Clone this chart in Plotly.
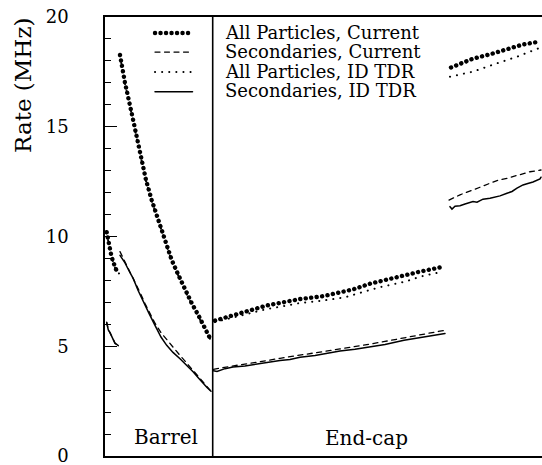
import plotly.graph_objects as go

# Position along the detector (arbitrary units); barrel up to 1.077, end-cap beyond
BARREL_EDGE = 1.077

# ---- All Particles, Current ----
all_cur_x = [
    [0.017, 0.03, 0.045, 0.06, 0.075, 0.09, 0.105, 0.12, 0.14],
    [0.15, 0.20, 0.26, 0.307, 0.357, 0.41, 0.467, 0.517, 0.567, 0.617, 0.667,
     0.733, 0.80, 0.867, 0.933, 1.00, 1.055],
    [1.10, 1.28, 1.45, 1.62, 1.78, 1.95, 2.18, 2.35, 2.48, 2.65, 2.82, 2.98, 3.15, 3.38],
    [3.46, 3.57, 3.68, 3.85, 4.02, 4.18, 4.35],
]
all_cur_y = [
    [10.2, 9.85, 9.5, 9.2, 8.95, 8.7, 8.55, 8.42, 8.35],
    [18.27, 17.0, 15.76, 14.70, 13.64, 12.57, 11.66, 10.98, 10.30, 9.54, 8.93,
     8.25, 7.56, 6.96, 6.42, 5.82, 5.32],
    [6.17, 6.40, 6.66, 6.86, 7.00, 7.15, 7.28, 7.45, 7.59, 7.85, 8.05, 8.25, 8.40, 8.62],
    [17.70, 17.90, 18.10, 18.30, 18.52, 18.75, 18.88],
]

# ---- Secondaries, Current ----
sec_cur_x = [
    [0.017, 0.033, 0.05, 0.067, 0.083, 0.10, 0.117, 0.133],
    [0.15, 0.20, 0.25, 0.30, 0.35, 0.40, 0.45, 0.50, 0.56, 0.633, 0.70, 0.75,
     0.82, 0.88, 0.93, 0.98, 1.02, 1.06],
    [1.085, 1.20, 1.30, 1.45, 1.60, 1.75, 1.90, 2.05, 2.20, 2.35, 2.50, 2.65,
     2.80, 2.95, 3.10, 3.25, 3.40],
    [3.44, 3.55, 3.68, 3.80, 3.92, 4.02, 4.15, 4.25, 4.36],
]
sec_cur_y = [
    [6.10, 5.76, 5.62, 5.45, 5.33, 5.15, 5.08, 5.04],
    [9.31, 8.85, 8.40, 7.95, 7.45, 6.95, 6.50, 6.05, 5.62, 5.21, 4.85, 4.58,
     4.22, 3.90, 3.62, 3.33, 3.14, 2.95],
    [3.95, 4.05, 4.12, 4.22, 4.35, 4.45, 4.56, 4.65, 4.77, 4.88, 4.98, 5.10,
     5.22, 5.35, 5.48, 5.60, 5.73],
    [11.66, 11.90, 12.12, 12.35, 12.55, 12.65, 12.82, 12.95, 13.03],
]

# ---- All Particles, ID TDR ----
all_tdr_x = [
    [0.017, 0.03, 0.045, 0.06, 0.075, 0.09, 0.105, 0.12, 0.14],
    [0.15, 0.20, 0.26, 0.307, 0.357, 0.41, 0.467, 0.517, 0.567, 0.617, 0.667,
     0.733, 0.80, 0.867, 0.933, 1.00, 1.055],
    [1.10, 1.28, 1.45, 1.62, 1.78, 1.95, 2.18, 2.40, 2.60, 2.75, 3.00, 3.15, 3.30, 3.38],
    [3.45, 3.68, 3.92, 4.12, 4.35],
]
all_tdr_y = [
    [10.15, 9.80, 9.46, 9.15, 8.92, 8.68, 8.52, 8.40, 8.32],
    [18.22, 16.95, 15.70, 14.66, 13.60, 12.52, 11.62, 10.94, 10.26, 9.50, 8.90,
     8.22, 7.52, 6.93, 6.38, 5.80, 5.30],
    [6.10, 6.30, 6.52, 6.70, 6.82, 6.97, 7.08, 7.23, 7.50, 7.69, 7.94, 8.17, 8.32, 8.40],
    [17.28, 17.51, 17.89, 18.19, 18.60],
]

# ---- Secondaries, ID TDR ----
sec_tdr_x = [
    [0.017, 0.033, 0.05, 0.067, 0.083, 0.10, 0.117, 0.133],
    [0.15, 0.20, 0.25, 0.283, 0.33, 0.383, 0.44, 0.50, 0.56, 0.617, 0.68, 0.75,
     0.82, 0.883, 0.93, 0.983, 1.02, 1.06],
    [1.085, 1.12, 1.20, 1.28, 1.40, 1.50, 1.62, 1.75, 1.85, 1.95, 2.10, 2.23,
     2.35, 2.50, 2.65, 2.80, 2.99, 3.15, 3.30, 3.40],
    [3.45, 3.47, 3.50, 3.55, 3.60, 3.65, 3.68, 3.72, 3.78, 3.85, 3.90, 3.95,
     4.02, 4.07, 4.12, 4.18, 4.22, 4.28, 4.35, 4.36],
]
sec_tdr_y = [
    [6.07, 5.74, 5.62, 5.43, 5.34, 5.13, 5.08, 5.03],
    [9.14, 8.80, 8.35, 8.08, 7.55, 7.02, 6.50, 5.95, 5.42, 5.04, 4.72, 4.43,
     4.12, 3.83, 3.58, 3.29, 3.12, 2.95],
    [3.88, 3.85, 3.98, 4.05, 4.10, 4.18, 4.28, 4.35, 4.40, 4.50, 4.58, 4.68,
     4.78, 4.86, 4.98, 5.08, 5.27, 5.38, 5.48, 5.58],
    [11.36, 11.25, 11.38, 11.40, 11.48, 11.55, 11.59, 11.56, 11.70, 11.74, 11.80,
     11.85, 11.97, 12.05, 12.20, 12.35, 12.40, 12.48, 12.62, 12.70],
]

series_names = ["All Particles, Current", "Secondaries, Current",
                "All Particles, ID TDR", "Secondaries, ID TDR"]

FONT = "DejaVu Serif"


def join_segments(segs):
    out = []
    for i, s in enumerate(segs):
        if i:
            out.append(None)
        out.extend(s)
    return out


styles = [
    dict(width=4.4, dash="0.1px,5.4px"),   # heavy dots
    dict(width=1.3, dash="5px,4.5px"),     # dashes
    dict(width=2.0, dash="0.1px,7px"),     # fine dots
    dict(width=1.5, dash="solid"),         # solid
]
data = [(all_cur_x, all_cur_y), (sec_cur_x, sec_cur_y),
        (all_tdr_x, all_tdr_y), (sec_tdr_x, sec_tdr_y)]

fig = go.Figure()
for name, (xs, ys), st in zip(series_names, data, styles):
    fig.add_trace(go.Scatter(
        x=join_segments(xs), y=join_segments(ys), mode="lines", name=name,
        line=dict(color="black", width=st["width"], dash=st["dash"]),
        connectgaps=False, showlegend=False, hoverinfo="skip",
    ))

shapes = [
    # barrel / end-cap boundary
    dict(type="line", xref="x", yref="paper", x0=BARREL_EDGE, x1=BARREL_EDGE,
         y0=0, y1=1, line=dict(color="black", width=1.6)),
]
annotations = []

# hand-built key in the upper left
key_rows_y = [19.27, 18.40, 17.50, 16.60]
for name, st, yk in zip(series_names, styles, key_rows_y):
    shapes.append(dict(type="line", xref="x", yref="y", x0=0.50, x1=0.875,
                       y0=yk, y1=yk,
                       line=dict(color="black", width=st["width"], dash=st["dash"])))
    annotations.append(dict(text=name, xref="x", yref="y", x=1.175, y=yk + 0.03,
                            xanchor="left", yanchor="middle", showarrow=False,
                            font=dict(family=FONT, size=18, color="black")))

annotations += [
    dict(text="Barrel", xref="x", yref="y", x=0.608, y=0.85, showarrow=False,
         xanchor="center", yanchor="middle",
         font=dict(family=FONT, size=20, color="black")),
    dict(text="End-cap", xref="x", yref="y", x=2.617, y=0.80, showarrow=False,
         xanchor="center", yanchor="middle",
         font=dict(family=FONT, size=20, color="black")),
    dict(text="Rate (MHz)", xref="paper", yref="paper", x=-0.188, y=0.845,
         textangle=-90, showarrow=False, xanchor="center", yanchor="middle",
         font=dict(family=FONT, size=23, color="black")),
]

fig.update_layout(
    width=542, height=465,
    margin=dict(l=105, r=0, t=17, b=9),
    paper_bgcolor="white", plot_bgcolor="white",
    shapes=shapes, annotations=annotations,
    font=dict(family=FONT, color="black"),
    xaxis=dict(range=[0, 4.37], showgrid=False, zeroline=False,
               showticklabels=False, ticks="", showline=True, mirror=True,
               linecolor="black", linewidth=1.6, fixedrange=True),
    yaxis=dict(range=[0, 20], showgrid=False, zeroline=False,
               tickmode="array", tickvals=[0, 5, 10, 15, 20],
               ticks="inside", ticklen=12, tickwidth=1.4, tickcolor="black",
               minor=dict(dtick=1, ticks="inside", ticklen=6, tickwidth=1.4,
                          tickcolor="black", showgrid=False),
               showline=True, linecolor="black", linewidth=1.6,
               ticklabelstandoff=31, ticklabeloverflow="allow",
               tickfont=dict(family=FONT, size=18, color="black"),
               fixedrange=True),
)

round_caps = ("document.querySelectorAll('.scatterlayer path.js-line, "
              ".shapelayer path').forEach(p => p.style.strokeLinecap = 'round');")
fig.write_html("out.html", post_script=round_caps)
